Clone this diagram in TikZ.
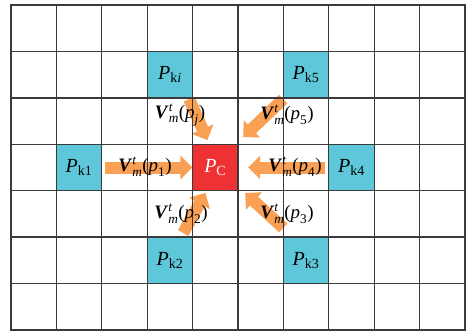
\documentclass[tikz,border=0pt]{standalone}
\usepackage{amsmath}
\usepackage{fontspec}
\setmainfont{Liberation Serif}
\usetikzlibrary{arrows.meta}
\definecolor{cellcyan}{HTML}{5EC8DA}
\definecolor{cellred}{HTML}{EE3233}
\definecolor{arrorange}{HTML}{F9A055}
\definecolor{gridgray}{HTML}{3A3A3A}
\tikzset{
  cell/.style={minimum width=45.4pt, minimum height=46.43pt, inner sep=0pt, font=\fontsize{20}{24}\selectfont},
  kcell/.style={cell, fill=cellcyan},
  ccell/.style={cell, fill=cellred, text=white},
  arr/.style={draw=arrorange, line width=12pt, -{Triangle[length=12pt,width=23pt]}},
  vlabel/.style={inner sep=0pt, font=\fontsize{19}{22}\selectfont},
  gridline/.style={draw=gridgray, line width=1.35pt, line cap=rect}
}
\newcommand{\Vlab}[1]{$\textbf{\textit{V}}^{\textit{t}}_{\textit{m}}\text{(}\textit{p}_{#1}\text{)}$}
\begin{document}
\begin{tikzpicture}[x=1pt,y=-1pt]
\useasboundingbox (0,0) rectangle (469,332);
% cells (centers: col c -> 11+45.4c+22.7 ; row r -> 5+46.43r+23.215)
\node[kcell] (pki) at (169.9,74.7) {$\textit{P}_{\text{k}\textit{i}}$};
\node[kcell] (pk5) at (306.1,74.7) {$\textit{P}_{\text{k5}}$};
\node[kcell] (pk1) at (79.1,167.5) {$\textit{P}_{\text{k1}}$};
\node[ccell] (pc)  at (215.3,167.5) {$\textit{P}_{\text{C}}$};
\node[kcell] (pk4) at (351.5,167.5) {$\textit{P}_{\text{k4}}$};
\node[kcell] (pk2) at (169.9,260.4) {$\textit{P}_{\text{k2}}$};
\node[kcell] (pk3) at (306.1,260.4) {$\textit{P}_{\text{k3}}$};
% arrows
\draw[arr] ([shift={(3,0)}]pk1.east) -- (pc.west);
\draw[arr] ([shift={(-4,0)}]pk4.west) -- ([shift={(10,0)}]pc.east);
\draw[arr] ([shift={(-3.6,1)}]pki.south east) -- ([shift={(15,-4)}]pc.north west);
\draw[arr] ([shift={(0,1)}]pk5.south west) -- ([shift={(5,-7)}]pc.north east);
\draw[arr] ([shift={(-9.6,-4)}]pk2.north east) -- ([shift={(13,2)}]pc.south west);
\draw[arr] ([shift={(0,-9)}]pk3.north west) -- ([shift={(7,2)}]pc.south east);
% grid
\foreach \i in {0,...,10} {
  \draw[gridline] (11+45.4*\i,5) -- (11+45.4*\i,330);
}
\foreach \j in {0,...,7} {
  \draw[gridline] (11,5+46.43*\j) -- (465,5+46.43*\j);
}
% labels
\node[vlabel] (lj) at (180,115) {\Vlab{\textit{j}}};
\node[vlabel] (l5) at (287,115) {\Vlab{\text{5}}};
\node[vlabel] (l1) at (145,167) {\Vlab{\text{1}}};
\node[vlabel] (l4) at (295,167) {\Vlab{\text{4}}};
\node[vlabel] (l2) at (181,214) {\Vlab{\text{2}}};
\node[vlabel] (l3) at (287,214) {\Vlab{\text{3}}};
\end{tikzpicture}
\end{document}
